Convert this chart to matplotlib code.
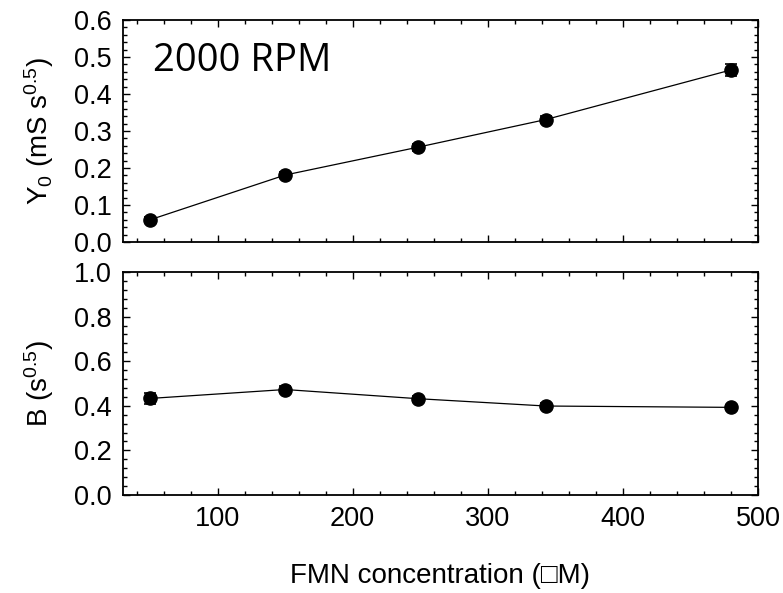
import matplotlib
matplotlib.use("Agg")
import matplotlib.pyplot as plt
from matplotlib.ticker import MultipleLocator

plt.rcParams['font.family'] = ['Liberation Sans', 'DejaVu Sans']
plt.rcParams['mathtext.fontset'] = 'custom'
plt.rcParams['mathtext.rm'] = 'Liberation Sans'
plt.rcParams['mathtext.it'] = 'Liberation Sans'

conc = [50, 150, 248, 343, 480]
y0 = [0.060, 0.181, 0.256, 0.331, 0.465]
y0_err = [0.007, 0.007, 0.009, 0.010, 0.017]
b = [0.433, 0.473, 0.432, 0.399, 0.393]
b_err = [0.026, 0.016, 0.014, 0.012, 0.012]

fig = plt.figure(figsize=(7.83, 5.93), dpi=100)
ax1 = fig.add_axes([123/783, 1-242/593, 635/783, 222/593])
ax2 = fig.add_axes([123/783, 1-495/593, 635/783, 223/593])

style = dict(color='black', marker='o', markersize=9.5, linewidth=0.9,
             elinewidth=1.0, capsize=4.5, capthick=1.2)
ax1.errorbar(conc, y0, yerr=y0_err, **style)
ax2.errorbar(conc, b, yerr=b_err, **style)

for ax in (ax1, ax2):
    ax.set_xlim(30, 500)
    ax.xaxis.set_major_locator(MultipleLocator(100))
    ax.xaxis.set_minor_locator(MultipleLocator(20))
    ax.tick_params(which='both', direction='in', top=True, right=True,
                   labelsize=19.5, width=1.0)
    ax.tick_params(which='major', length=5, pad=8)
    ax.tick_params(which='minor', length=3)
    for s in ax.spines.values():
        s.set_linewidth(1.3)

ax1.set_ylim(0, 0.6)
ax1.yaxis.set_major_locator(MultipleLocator(0.1))
ax1.yaxis.set_minor_locator(MultipleLocator(0.02))
ax1.set_xticklabels([])
ax1.set_ylabel('Y$_0$ (mS s$^{0.5}$)', fontsize=20, labelpad=13)
ax1.yaxis.set_major_formatter(plt.FuncFormatter(lambda v, p: f'{v:.1f}'))
ax1.text(0.047, 0.815, '2000 RPM', transform=ax1.transAxes, fontsize=27.5,
         family=['Open Sans', 'DejaVu Sans'], va='center', ha='left')

ax2.set_ylim(0, 1.0)
ax2.yaxis.set_major_locator(MultipleLocator(0.2))
ax2.yaxis.set_minor_locator(MultipleLocator(0.04))
ax2.yaxis.set_major_formatter(plt.FuncFormatter(lambda v, p: f'{v:.1f}'))
ax2.set_ylabel('B (s$^{0.5}$)', fontsize=20, labelpad=13)
ax2.set_xlabel('FMN concentration (\u25a1M)', fontsize=20, labelpad=22)

fig.savefig('out.png', dpi=100)
